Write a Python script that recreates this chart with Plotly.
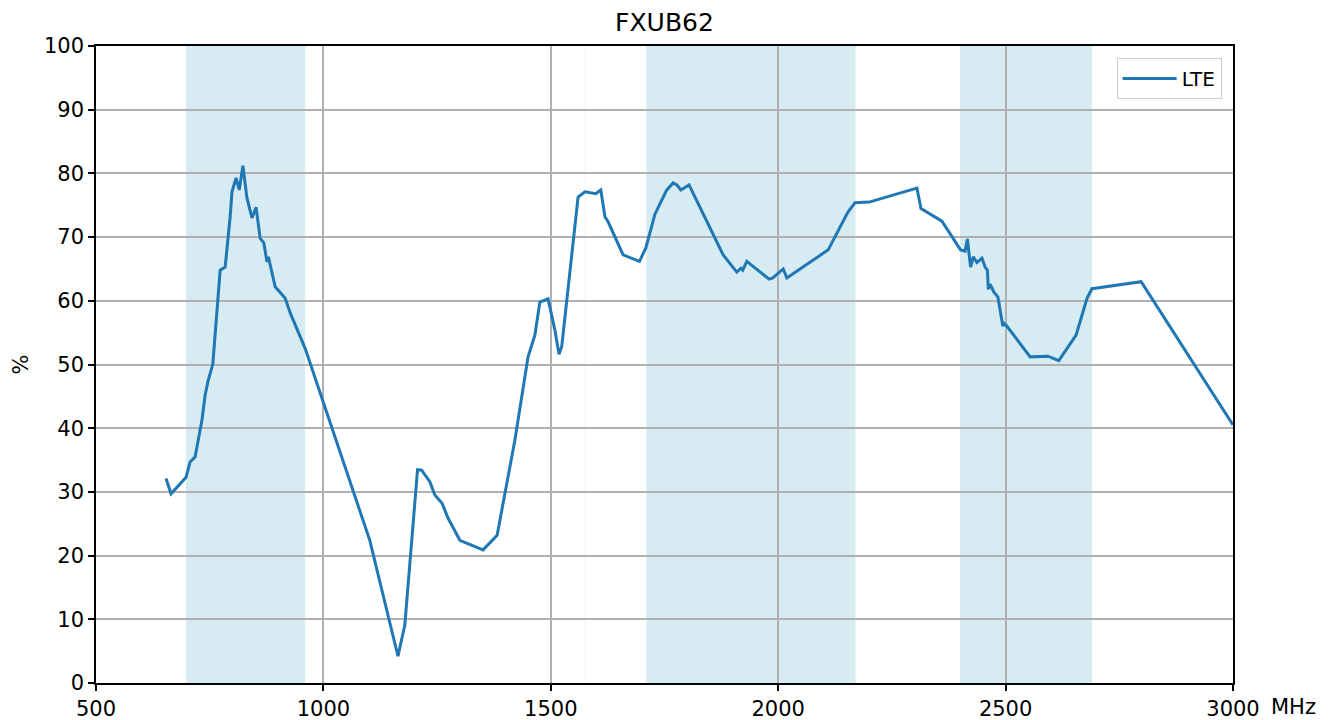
import plotly.graph_objects as go

title = "FXUB62"
series_name = "LTE"

freq_mhz = [654, 665, 698, 707, 718, 733, 740, 746, 755, 757, 773, 784, 795, 799, 808, 815, 823,
            832, 843, 852, 861, 869, 876, 879, 894, 916, 927, 960,
            1102, 1164, 1179, 1207, 1216, 1234, 1245, 1261, 1274, 1300, 1351, 1382, 1421, 1430,
            1450, 1465, 1476, 1494, 1509, 1518, 1524, 1560, 1575, 1599, 1610, 1619, 1626, 1659,
            1695, 1709, 1729, 1755, 1769, 1777, 1786, 1804, 1879, 1909, 1918, 1922, 1931, 1980,
            1988, 2011, 2019, 2110, 2153, 2169, 2200, 2305, 2314, 2360, 2401, 2411, 2416, 2423,
            2429, 2437, 2448, 2455, 2460, 2462, 2466, 2474, 2483, 2494, 2496, 2501, 2554, 2593,
            2617, 2655, 2679, 2690, 2798, 3000]
lte_pct = [32.1, 29.7, 32.3, 34.7, 35.5, 41.3, 45.2, 47.3, 49.6, 50.2, 64.8, 65.3, 73.2, 77.1, 79.3,
           77.4, 81.2, 76.1, 73.0, 74.7, 69.8, 69.1, 66.1, 66.9, 62.2, 60.4, 58.1, 52.5,
           22.4, 4.2, 9.1, 33.5, 33.4, 31.6, 29.5, 28.2, 25.9, 22.4, 20.9, 23.2, 38.1, 42.0,
           51.2, 54.6, 59.8, 60.3, 55.4, 51.6, 52.8, 76.3, 77.1, 76.8, 77.4, 73.2, 72.4, 67.2,
           66.2, 68.3, 73.6, 77.4, 78.5, 78.2, 77.4, 78.2, 67.2, 64.5, 65.1, 64.8, 66.2, 63.4,
           63.6, 65.0, 63.6, 68.0, 73.9, 75.4, 75.5, 77.7, 74.5, 72.5, 68.0, 67.8, 69.7, 65.3,
           66.9, 66.0, 66.7, 65.3, 64.8, 61.8, 62.6, 61.4, 60.6, 56.0, 56.5, 56.2, 51.2, 51.3,
           50.6, 54.6, 60.4, 61.9, 63.0, 40.5]

bands = [(698, 960), (1574.9, 1576.0), (1710, 2170), (2400, 2690)]
x_ticks = [500, 1000, 1500, 2000, 2500, 3000]
y_ticks = [0, 10, 20, 30, 40, 50, 60, 70, 80, 90, 100]

fig = go.Figure()
fig.add_trace(go.Scatter(x=freq_mhz, y=lte_pct, mode="lines", name=series_name,
                         line=dict(color="#1f77b4", width=3)))

for lo, hi in bands:
    fig.add_vrect(x0=lo, x1=hi, fillcolor="rgba(173,216,230,0.5)", line_width=0, layer="below")

font = "DejaVu Sans, sans-serif"
fig.update_layout(
    width=1329, height=720,
    margin=dict(l=88, r=104, t=38, b=45, autoexpand=False),
    paper_bgcolor="white", plot_bgcolor="white",
    font=dict(family=font, size=21, color="black"),
    title=dict(text=title, x=0.5, xanchor="center", xref="paper", y=1 - 14 / 720, yanchor="middle",
               font=dict(family=font, size=25, color="black")),
    showlegend=True,
    legend=dict(x=0.990, y=0.981, xanchor="right", yanchor="top", itemwidth=54,
                bgcolor="rgba(255,255,255,0.8)", bordercolor="#cccccc", borderwidth=1,
                font=dict(family=font, size=20)),
)
fig.update_xaxes(range=[500, 3000], tickvals=x_ticks, ticks="outside", ticklen=6, tickwidth=1.5,
                 tickcolor="black", showline=True, linecolor="black", linewidth=1.5, mirror=True,
                 showgrid=True, gridcolor="#b0b0b0", gridwidth=1.5, zeroline=False, automargin=False)
fig.update_yaxes(range=[0, 100], tickvals=y_ticks, ticks="outside", ticklen=6, tickwidth=1.5,
                 tickcolor="black", showline=True, linecolor="black", linewidth=1.5, mirror=True,
                 showgrid=True, gridcolor="#b0b0b0", gridwidth=1.5, zeroline=False, automargin=False,
                 title=dict(text="%", standoff=10, font=dict(family=font, size=21)))
fig.add_annotation(text="MHz", xref="paper", yref="paper", x=1.0, y=0, xanchor="left", yanchor="top",
                   xshift=36, yshift=-10, showarrow=False, font=dict(family=font, size=21))

fig.write_html("out.html")
